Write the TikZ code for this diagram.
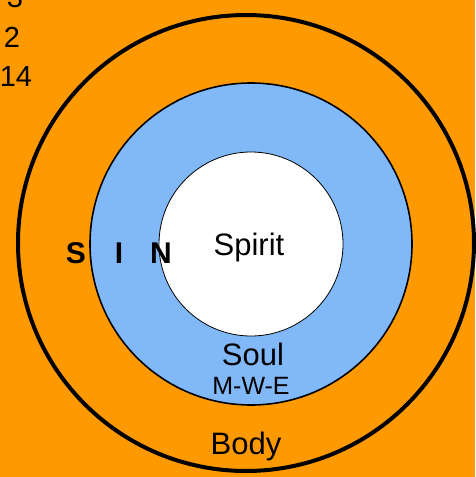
\documentclass[tikz,border=0pt]{standalone}
\usepackage{fontspec}
\setmainfont{Liberation Sans}
\usetikzlibrary{positioning}
\definecolor{bodyorange}{HTML}{FF9900}
\definecolor{soulblue}{RGB}{128,184,248}

\begin{document}
\begin{tikzpicture}[
          x=1pt, y=-1pt,
          ring/.style={circle, draw=black, inner sep=0pt, outer sep=0pt},
          big/.style={font=\fontsize{31}{37}\selectfont, anchor=base, inner sep=0pt},
          small/.style={font=\fontsize{25}{30}\selectfont, anchor=base, inner sep=0pt},
          num/.style={font=\fontsize{29}{35}\selectfont, anchor=base, inner sep=0pt},
          sin/.style={font=\fontsize{30}{36}\selectfont\bfseries, anchor=base, inner sep=0pt},
        ]
          %% background
          \fill[bodyorange] (0,0) rectangle (475,477);
          \useasboundingbox (0,0) rectangle (475,477);

          %% the three circles
          \node[ring, fill=bodyorange, line width=4pt, minimum size=456pt] (body)   at (246,243) {};
          \node[ring, fill=soulblue,   line width=1.6pt, minimum size=322pt] (soul)   at (251,244) {};
          \node[ring, fill=white,      line width=0.8pt, minimum size=184pt] (spirit) at (251,244) {};

          %% numbers at top left
          \node[num] (n3)  at (15,7)  {3};
          \node[num] (n2)  at (12,47) {2};
          \node[num] (n14) at (16,86) {14};

          %% labels
          \node[big]   (spiritlab) at (249,255) {Spirit};
          \node[big]   (soullab)   at (253,365) {Soul};
          \node[small] (mwe)       at (251,394) {M-W-E};
          \node[big]   (bodylab)   at (246,454) {Body};

          %% S I N across the rings
          \node[sin] (s) at (76,263)  {S};
          \node[sin] (i) at (119,263) {I};
          \node[sin] (n) at (161,263) {N};
        \end{tikzpicture}
\end{document}
